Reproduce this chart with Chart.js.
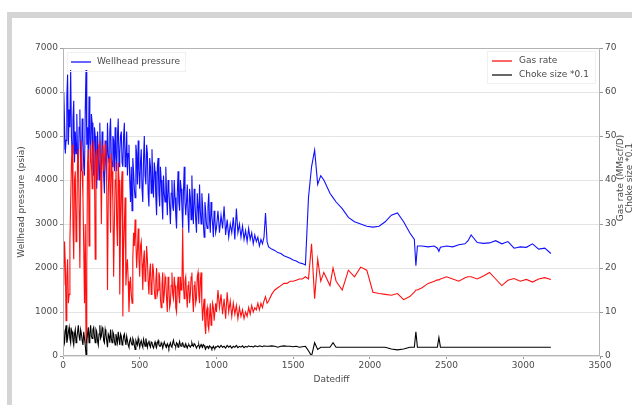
<!DOCTYPE html>
<html>
<head>
<meta charset="utf-8">
<script src="https://cdn.jsdelivr.net/npm/chart.js@4.4.1/dist/chart.umd.min.js"></script>
<style>
  html, body { margin: 0; padding: 0; background: #fff; }
  #wrap { position: relative; width: 632px; height: 405px; overflow: hidden; }
  #frame { position: absolute; left: 7px; top: 12px; width: 700px; height: 500px;
           border-left: 5px solid #d5d5d5; border-top: 6px solid #d5d5d5; }
  canvas { position: absolute; left: 0; top: 0; }
</style>
</head>
<body>
<div id="wrap">
  <div id="frame"></div>
  <canvas id="c" width="632" height="405"></canvas>
</div>
<script>
// Days since first production (Datediff)
const days = [
  0,5,10,15,20,25,30,35,40,45,50,55,60,65,70,75,80,85,90,95,
  100,105,110,115,120,125,130,135,140,145,150,155,160,165,170,175,180,185,190,195,
  200,205,210,215,220,225,230,235,240,245,250,255,260,265,270,275,280,285,290,295,
  300,305,310,315,320,325,330,335,340,345,350,355,360,365,370,375,380,385,390,395,
  400,405,410,415,420,425,430,435,440,445,450,455,460,465,470,475,480,485,490,495,
  500,505,510,515,520,525,530,535,540,545,550,555,560,565,570,575,580,585,590,595,
  600,605,610,615,620,625,630,635,640,645,650,655,660,665,670,675,680,685,690,695,
  700,705,710,715,720,725,730,735,740,745,750,755,760,765,770,775,780,785,790,795,
  800,805,810,815,820,825,830,835,840,845,850,855,860,865,870,875,880,885,890,895,
  900,905,910,915,920,925,930,935,940,945,950,955,960,965,970,975,980,985,990,995,
  1000,
  1010,1020,1030,1040,1050,1060,1070,1080,1090,1100,
  1110,1120,1130,1140,1150,1160,1170,1180,1190,1200,
  1210,1220,1230,1240,1250,1260,1270,1280,1290,1300,
  1310,1320,1330,1340,
  1360,1380,1400,1420,1440,1460,1480,1500,1520,1540,
  1560,1580,1600,1620,1640,1660,1680,
  1700,1740,1760,1780,1820,1860,1900,1940,1980,2020,
  2060,2100,2140,2180,2220,2260,2290,2300,2310,2340,
  2380,2420,2440,2450,2460,2500,2540,2580,2620,2640,
  2660,2700,2740,2780,2820,2860,2900,2940,2980,3020,
  3060,3100,3140,3180
];

// Wellhead pressure, psia (left axis)
const wellheadPressure = [
  4700,6000,5300,4600,4900,5900,6400,4800,5600,5200,6500,5000,4600,5400,5800,4400,5100,4600,5500,4500,
  4300,5200,5600,4400,4200,5400,5000,4300,4100,5600,6500,4800,5200,4500,5900,4900,4400,5500,5300,4300,
  4100,5200,5000,4200,3800,5100,4600,4000,5300,4400,4000,5100,4800,4100,3700,4900,4500,4000,5300,4600,
  4400,5100,5400,4500,4300,5000,4900,4200,5200,4500,4200,5000,5400,4300,4600,5000,5100,4400,4300,5000,
  5300,4300,4500,5100,4100,4600,4800,4000,3500,4300,3300,4500,4200,3800,3600,4800,4600,3900,4900,4200,
  3800,4400,4700,3800,3500,4500,5000,4100,3900,4800,4600,3700,3400,4500,4300,3700,4700,4000,3600,4400,
  4200,3600,3200,4300,4500,3700,3400,4300,4000,3500,3100,4100,3700,3500,4300,3700,3200,4000,3800,3400,
  3000,3700,4000,3400,3300,4000,3600,3200,2900,3700,4200,3500,3300,4000,3800,3400,2900,3700,4300,3500,
  3200,3500,3900,3200,2800,3800,3600,3100,4100,3400,3000,3800,3500,3100,2800,3700,3400,3000,3900,3300,
  3000,3700,3400,3000,2700,3500,3300,3000,2900,3400,3700,3100,2800,3500,3200,3000,2700,3300,3100,2800,
  2900,
  3300,2800,3200,2900,3400,2750,3100,2700,3000,2800,
  3150,2650,3350,2800,3000,2700,2950,2650,2850,2600,
  2900,2650,2800,2550,2750,2600,2700,2500,2650,2550,
  2700,3250,2600,2480,
  2430,2400,2350,2330,2280,2250,2220,2180,2160,2120,
  2100,2070,3600,4300,4680,3900,4100,
  4000,3700,3600,3500,3350,3150,3050,3000,2950,2930,
  2950,3050,3200,3250,3050,2800,2650,2050,2500,2500,
  2480,2500,2450,2380,2470,2500,2480,2530,2550,2620,
  2750,2580,2560,2570,2620,2550,2600,2450,2480,2470,
  2550,2430,2450,2330
];

// Gas rate, MMscf/D (right axis)
const gasRate = [
  20,16,26,21,8,18,22,12,14,26,35,44,48,30,22,40,42,26,30,45,
  47,33,20,44,49,42,36,25,12,30,3,20,44,47,25,42,48,44,38,47,
  49,43,22,46,47,40,45,48,49,44,30,46,48,42,44,48,47,38,15,36,
  45,40,28,46,42,35,18,30,40,44,30,25,44,40,14,30,38,42,9,24,
  30,36,16,20,22,17,10,15,18,14,12,22,28,25,31,26,20,24,29,22,
  18,25,26,21,15,22,24,17,19,25,22,17,14,19,21,14,16,21,19,15,
  13,17,20,14,15,19,18,13,11,16,19,12,14,18,17,13,10,18,16,11,
  12,16,19,14,13,18,16,11,10,15,18,14,12,18,15,16,29,16,13,17,
  18,14,11,16,17,12,14,18,19,13,10,16,17,12,13,18,19,14,12,17,
  19,12,8,11,13,7,5,10,11,7,6,9,12,7,9,12,11,8,8,12,
  10,
  15,11,14,9.5,13,8.5,14.5,10,12.5,9,
  12,9.5,11.5,8.5,11,9,10.5,8.5,10,9,
  11,9.5,11.5,10,11,10.5,12,10.5,12,11,
  12.5,13.5,12,12.5,
  14,15,15.5,16,16.5,16.5,17,17,17.2,17.5,
  17.5,18,17.5,25.5,13,22,17,
  19,16,20,17,15,19.5,18,20.2,19.5,14.5,
  14.2,14,13.8,14.2,12.8,13.5,14.5,15,15,15.5,
  16.5,17,17.3,17.3,17.5,18,17.5,17,17.8,18,
  18,17.5,18.2,19,17.5,16,17.2,17.6,17,17.4,
  16.8,17.5,17.8,17.4
];

// Choke size scaled by 0.1 (right axis)
const chokeSize = [
  6,4,3,5.5,7,3,4,5.5,6.5,4,3,6,5.5,3.5,2.5,5,6,3,4,5.5,
  7,4.5,3.5,6,5,3.5,2.5,5.5,4,2.5,0.3,3.5,5,6.5,3,5,7,4.5,4,6,
  6.5,4.5,3,6,5.5,3.5,2.5,5,7,4,4.5,6.5,6,3.5,3,6,5,3.5,2,5,
  4.5,3,6,4,3,5.5,5,3.5,2.5,5,4,3,5.5,4,2.5,5,4.5,2.5,3,4.5,
  5,3.5,2.5,4.5,3.5,2.5,2,3.5,4,3,2.5,4,3.5,2.5,1.5,3.5,3,2.5,4,3,
  2,3,3.5,2.5,2,3.8,3,2.2,4,3,2,3,3.5,2.4,2,3.2,3,2.2,1.8,2.6,
  3.2,2.4,2,3,3.5,2.6,2.2,2.2,3,2.6,1.8,2.6,3.2,2.6,2.2,2,2.8,2.4,1.8,2.6,
  3,2.2,2,3,3.6,2.6,2.4,2.2,3,2.8,2,2.6,3.3,2.4,2.2,2.8,3,2.4,2,2.4,
  2.8,2.2,1.8,2.4,2.6,2.2,2,2.4,3,2.4,2.2,2.8,2.6,2.2,1.8,2.2,2.4,2.6,1.8,2.2,
  2.6,2.2,2,2.6,2.4,1.9,1.6,2.1,2.2,1.9,1.8,2.3,2.1,2.0,1.6,1.9,2.2,1.8,1.7,2.1,
  2.0,
  2.3,1.9,2.4,2.0,2.2,1.8,2.4,2.0,2.3,1.8,
  2.2,2.0,2.4,1.9,2.2,2.0,2.3,1.9,2.2,2.0,
  2.3,2.1,2.2,2.0,2.3,2.2,2.1,2.3,2.2,2.1,
  2.3,2.2,2.2,2.2,
  2.3,2.2,2.0,2.2,2.3,2.2,2.2,2.1,2.2,2.0,
  2.1,2.2,1.2,0.0,3.0,1.5,2.0,
  2.0,2.0,3.0,2.0,2.0,2.0,2.0,2.0,2.0,2.0,
  2.0,2.0,1.6,1.4,1.6,2.0,2.0,5.5,2.0,2.0,
  2.0,2.0,2.0,4.2,2.0,2.0,2.0,2.0,2.0,2.0,
  2.0,2.0,2.0,2.0,2.0,2.0,2.0,2.0,2.0,2.0,
  2.0,2.0,2.0,2.0
];

// Axis tick values
const xTicks = [0,500,1000,1500,2000,2500,3000,3500];
const pressureTicks = [0,1000,2000,3000,4000,5000,6000,7000];
const rateTicks = [0,10,20,30,40,50,60,70];

const FONT = '"DejaVu Sans", sans-serif';
const TEXT = '#4a4a4a';

const pts = vals => days.map((d, i) => ({ x: d, y: vals[i] }));

const decor = {
  id: 'decor',
  afterDraw(chart) {
    const { ctx, chartArea: a } = chart;
    ctx.save();
    // plot frame
    ctx.strokeStyle = '#b4b4b4';
    ctx.lineWidth = 1;
    ctx.strokeRect(Math.round(a.left) + 0.5, Math.round(a.top) + 0.5,
                   Math.round(a.right - a.left) - 1, Math.round(a.bottom - a.top) - 1);

    ctx.font = '9px ' + FONT;
    ctx.textBaseline = 'middle';
    ctx.fillStyle = TEXT;

    // legend: left axis series
    ctx.strokeStyle = '#f0f0f0';
    ctx.strokeRect(67.5, 52.5, 118, 19);
    ctx.strokeStyle = '#0000ff';
    ctx.lineWidth = 1.2;
    ctx.beginPath(); ctx.moveTo(71, 62); ctx.lineTo(91, 62); ctx.stroke();
    ctx.fillText('Wellhead pressure', 97, 62);

    // legend: right axis series
    ctx.lineWidth = 1;
    ctx.strokeStyle = '#f0f0f0';
    ctx.strokeRect(487.5, 51.5, 108, 32);
    ctx.lineWidth = 1.2;
    ctx.strokeStyle = '#ff0000';
    ctx.beginPath(); ctx.moveTo(492, 61); ctx.lineTo(512, 61); ctx.stroke();
    ctx.strokeStyle = '#000000';
    ctx.beginPath(); ctx.moveTo(492, 75); ctx.lineTo(512, 75); ctx.stroke();
    ctx.fillText('Gas rate', 519, 61);
    ctx.fillText('Choke size *0.1', 519, 75);

    // axis titles
    ctx.textAlign = 'center';
    ctx.fillText('Datediff', (a.left + a.right) / 2, 380);

    ctx.save();
    ctx.translate(22, (a.top + a.bottom) / 2);
    ctx.rotate(-Math.PI / 2);
    ctx.fillText('Wellhead pressure (psia)', 0, 0);
    ctx.restore();

    ctx.save();
    ctx.translate(621, 178);
    ctx.rotate(-Math.PI / 2);
    ctx.fillText('Gas rate (MMscf/D)', 0, 0);
    ctx.fillText('Choke size *0.1', 0, 9);
    ctx.restore();

    ctx.restore();
  }
};

const tickFont = { family: FONT, size: 9 };

new Chart(document.getElementById('c'), {
  type: 'line',
  data: {
    datasets: [
      { label: 'Wellhead pressure', data: pts(wellheadPressure), yAxisID: 'y',
        borderColor: '#1010ff', borderWidth: 1.1, order: 3 },
      { label: 'Gas rate', data: pts(gasRate), yAxisID: 'y2',
        borderColor: '#ff1010', borderWidth: 1.1, order: 2 },
      { label: 'Choke size *0.1', data: pts(chokeSize), yAxisID: 'y2',
        borderColor: '#000000', borderWidth: 1.1, order: 1 }
    ]
  },
  options: {
    responsive: false,
    animation: false,
    devicePixelRatio: 1,
    layout: { padding: { top: 48, left: 0, right: 0, bottom: 0 } },
    elements: { point: { radius: 0 }, line: { tension: 0 } },
    plugins: { legend: { display: false }, tooltip: { enabled: false } },
    scales: {
      x: {
        type: 'linear', min: 0, max: 3500,
        afterBuildTicks: s => { s.ticks = xTicks.map(v => ({ value: v })); },
        ticks: { font: tickFont, color: TEXT, maxRotation: 0, autoSkip: false, padding: 1,
                 callback: v => String(v) },
        grid: { drawOnChartArea: false, tickLength: 3, tickColor: '#999' },
        border: { display: false },
        afterFit: s => { s.height = 49; }
      },
      y: {
        position: 'left', min: 0, max: 7000,
        afterBuildTicks: s => { s.ticks = pressureTicks.map(v => ({ value: v })); },
        ticks: { font: tickFont, color: TEXT, padding: 2, callback: v => String(v) },
        grid: { color: '#e4e4e4', tickLength: 3, tickColor: '#999' },
        border: { display: false },
        afterFit: s => { s.width = 63; }
      },
      y2: {
        position: 'right', min: 0, max: 70,
        afterBuildTicks: s => { s.ticks = rateTicks.map(v => ({ value: v })); },
        ticks: { font: tickFont, color: TEXT, padding: 2, callback: v => String(v) },
        grid: { drawOnChartArea: false, tickLength: 3, tickColor: '#999' },
        border: { display: false },
        afterFit: s => { s.width = 32; }
      }
    }
  },
  plugins: [decor]
});
</script>
</body>
</html>
